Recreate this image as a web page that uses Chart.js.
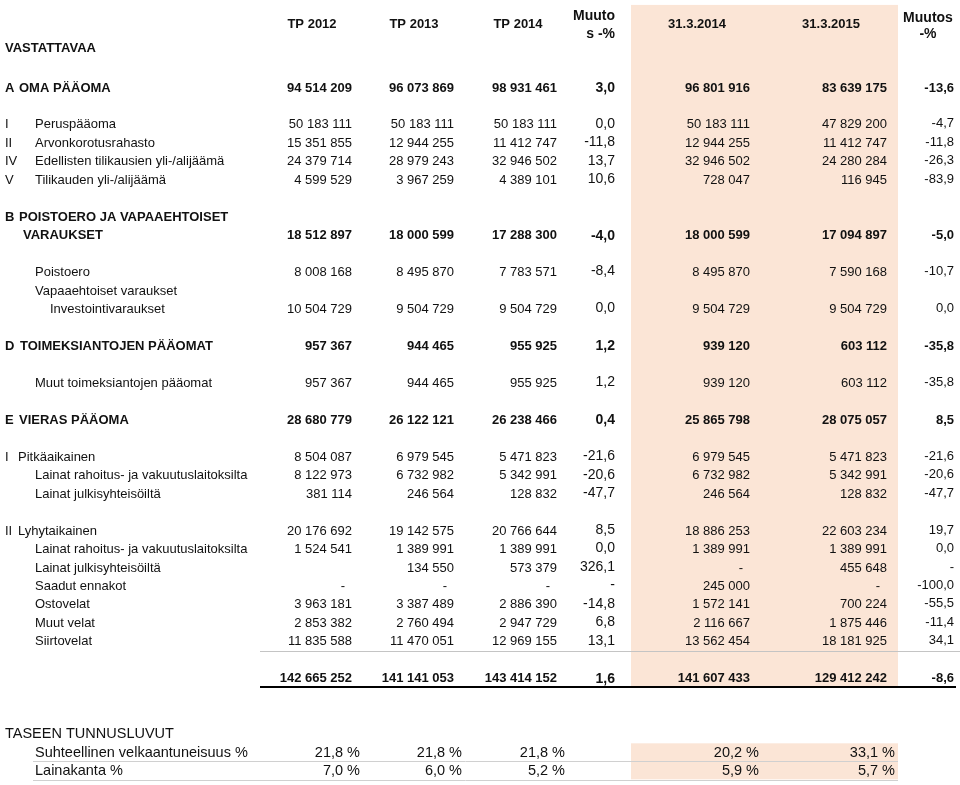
<!DOCTYPE html>
<html>
<head>
<meta charset="utf-8">
<script src="https://cdn.jsdelivr.net/npm/chart.js@4.4.1/dist/chart.umd.min.js"></script>
<style>
  body { margin: 0; background: #fff; }
  canvas { display: block; }
</style>
</head>
<body>
<canvas id="taulu" width="960" height="785"></canvas>
<script>
// column headings
var headings = ['TP 2012', 'TP 2013', 'TP 2014', ['Muuto', 's -%'], '31.3.2014', '31.3.2015', ['Muutos', '-%']];

// row texts
var rowCodes = ['A', 'I', 'II', 'IV', 'V', 'B', '', '', '', '', 'D', '', 'E', 'I', '', '', 'II', '', '', '', '', '', '', ''];
var rowNames = ['OMA PÄÄOMA', 'Peruspääoma', 'Arvonkorotusrahasto', 'Edellisten tilikausien yli-/alijäämä',
  'Tilikauden yli-/alijäämä', 'POISTOERO JA VAPAAEHTOISET', 'VARAUKSET', 'Poistoero', 'Vapaaehtoiset varaukset',
  'Investointivaraukset', 'TOIMEKSIANTOJEN PÄÄOMAT', 'Muut toimeksiantojen pääomat', 'VIERAS PÄÄOMA',
  'Pitkäaikainen', 'Lainat rahoitus- ja vakuutuslaitoksilta', 'Lainat julkisyhteisöiltä', 'Lyhytaikainen',
  'Lainat rahoitus- ja vakuutuslaitoksilta', 'Lainat julkisyhteisöiltä', 'Saadut ennakot', 'Ostovelat',
  'Muut velat', 'Siirtovelat', ''];

// values (null = empty cell, '-' = dash)
var tp2012 = [94514209, 50183111, 15351855, 24379714, 4599529, null, 18512897, 8008168, null, 10504729,
  957367, 957367, 28680779, 8504087, 8122973, 381114, 20176692, 1524541, null, '-', 3963181, 2853382, 11835588, 142665252];
var tp2013 = [96073869, 50183111, 12944255, 28979243, 3967259, null, 18000599, 8495870, null, 9504729,
  944465, 944465, 26122121, 6979545, 6732982, 246564, 19142575, 1389991, 134550, '-', 3387489, 2760494, 11470051, 141141053];
var tp2014 = [98931461, 50183111, 11412747, 32946502, 4389101, null, 17288300, 7783571, null, 9504729,
  955925, 955925, 26238466, 5471823, 5342991, 128832, 20766644, 1389991, 573379, '-', 2886390, 2947729, 12969155, 143414152];
var muutos1 = [3.0, 0.0, -11.8, 13.7, 10.6, null, -4.0, -8.4, null, 0.0,
  1.2, 1.2, 0.4, -21.6, -20.6, -47.7, 8.5, 0.0, 326.1, '-', -14.8, 6.8, 13.1, 1.6];
var q2014 = [96801916, 50183111, 12944255, 32946502, 728047, null, 18000599, 8495870, null, 9504729,
  939120, 939120, 25865798, 6979545, 6732982, 246564, 18886253, 1389991, '-', 245000, 1572141, 2116667, 13562454, 141607433];
var q2015 = [83639175, 47829200, 11412747, 24280284, 116945, null, 17094897, 7590168, null, 9504729,
  603112, 603112, 28075057, 5471823, 5342991, 128832, 22603234, 1389991, 455648, '-', 700224, 1875446, 18181925, 129412242];
var muutos2 = [-13.6, -4.7, -11.8, -26.3, -83.9, null, -5.0, -10.7, null, 0.0,
  -35.8, -35.8, 8.5, -21.6, -20.6, -47.7, 19.7, 0.0, '-', -100.0, -55.5, -11.4, 34.1, -8.6];

// key figures
var ratioTitle = 'TASEEN TUNNUSLUVUT';
var ratioNames = ['Suhteellinen velkaantuneisuus %', 'Lainakanta %'];
var ratio2012 = [21.8, 7.0];
var ratio2013 = [21.8, 6.0];
var ratio2014 = [21.8, 5.2];
var ratioQ2014 = [20.2, 5.9];
var ratioQ2015 = [33.1, 5.7];

// ---- layout (row slots in y units, x in px units) ----
var rowSlot = [0, 2, 3, 4, 5, 7, 8, 10, 11, 12, 14, 16, 18, 20, 21, 22, 24, 25, 26, 27, 28, 29, 30, 32];
var rowNameX = [19, 35, 35, 35, 35, 19, 23, 35, 35, 50, 20, 35, 19, 18, 35, 35, 18, 35, 35, 35, 35, 35, 35, 35];
var rowBold = [1, 0, 0, 0, 0, 1, 1, 0, 0, 0, 1, 0, 1, 0, 0, 0, 0, 0, 0, 0, 0, 0, 0, 1];
var colRight = [352, 454, 557, 615, 750, 887, 954];
var colPct = [0, 0, 0, 1, 0, 0, 1];
var colSize = [13, 13, 13, 14, 13, 13, 13];
var ratioSlot = [36, 37];
var ratioRight = [360, 462, 565, 759, 895];
var FONT = '"Liberation Sans", Arial, sans-serif';

function fmtNum(v) {
  if (v === null) return '';
  if (typeof v === 'string') return v;
  return String(v).replace(/\B(?=(\d{3})+(?!\d))/g, ' ');
}
function fmtPct(v) {
  if (v === null) return '';
  if (typeof v === 'string') return v;
  return v.toFixed(1).replace('.', ',');
}

var tablePlugin = {
  id: 'taulu',
  beforeDraw: function(chart) {
    var c = chart.ctx, x = chart.scales.x, y = chart.scales.y;
    c.save();
    c.fillStyle = '#fbe5d6';
    // shaded quarter columns
    c.fillRect(x.getPixelForValue(631), y.getPixelForValue(-4.5),
      x.getPixelForValue(898) - x.getPixelForValue(631), y.getPixelForValue(32.5) - y.getPixelForValue(-4.5));
    c.fillRect(x.getPixelForValue(631), y.getPixelForValue(35.5),
      x.getPixelForValue(898) - x.getPixelForValue(631), y.getPixelForValue(37.45) - y.getPixelForValue(35.5));
    c.restore();
  },
  afterDraw: function(chart) {
    var c = chart.ctx, x = chart.scales.x, y = chart.scales.y;
    var cols = [tp2012, tp2013, tp2014, muutos1, q2014, q2015, muutos2];
    c.save();
    c.fillStyle = '#111';
    c.textBaseline = 'middle';

    // headings
    c.font = 'bold 13px ' + FONT;
    c.textAlign = 'center';
    [312, 414, 518].forEach(function(cx, i) {
      c.fillText(headings[i], x.getPixelForValue(cx), y.getPixelForValue(-3.45));
    });
    [697, 831].forEach(function(cx, i) {
      c.fillText(headings[4 + i], x.getPixelForValue(cx), y.getPixelForValue(-3.45));
    });
    c.font = 'bold 14px ' + FONT;
    c.textAlign = 'right';
    c.fillText(headings[3][0], x.getPixelForValue(615), y.getPixelForValue(-3.9));
    c.fillText(headings[3][1], x.getPixelForValue(615), y.getPixelForValue(-2.93));
    c.textAlign = 'center';
    c.fillText(headings[6][0], x.getPixelForValue(928), y.getPixelForValue(-3.8));
    c.fillText(headings[6][1], x.getPixelForValue(928), y.getPixelForValue(-2.93));
    c.textAlign = 'left';
    c.font = 'bold 13px ' + FONT;
    c.fillText('VASTATTAVAA', x.getPixelForValue(5), y.getPixelForValue(-2.17));

    // body rows
    rowNames.forEach(function(name, r) {
      var py = y.getPixelForValue(rowSlot[r]);
      var w = rowBold[r] ? 'bold ' : '';
      c.textAlign = 'left';
      c.font = w + '13px ' + FONT;
      if (rowCodes[r]) c.fillText(rowCodes[r], x.getPixelForValue(5), py);
      c.fillText(name, x.getPixelForValue(rowNameX[r]), py);
      c.textAlign = 'right';
      cols.forEach(function(col, k) {
        var v = col[r];
        if (v === null) return;
        c.font = w + colSize[k] + 'px ' + FONT;
        var rx = colRight[k];
        if (v === '-' && !colPct[k]) rx -= 7;
        var txt = colPct[k] ? fmtPct(v) : fmtNum(v);
        c.fillText(txt, x.getPixelForValue(rx), py - (colPct[k] && !rowBold[r] ? 1 : 0));
      });
    });

    // rules under the last rows
    c.strokeStyle = '#c4c4c4';
    c.lineWidth = 1;
    c.beginPath();
    c.moveTo(x.getPixelForValue(260), Math.round(y.getPixelForValue(30.5)) + 0.5);
    c.lineTo(x.getPixelForValue(960), Math.round(y.getPixelForValue(30.5)) + 0.5);
    c.stroke();
    c.strokeStyle = '#000';
    c.lineWidth = 2;
    c.beginPath();
    c.moveTo(x.getPixelForValue(260), Math.round(y.getPixelForValue(32.47)));
    c.lineTo(x.getPixelForValue(956), Math.round(y.getPixelForValue(32.47)));
    c.stroke();

    // key figures
    c.textAlign = 'left';
    c.font = '14.5px ' + FONT;
    c.fillText(ratioTitle, x.getPixelForValue(5), y.getPixelForValue(35));
    var rcols = [ratio2012, ratio2013, ratio2014, ratioQ2014, ratioQ2015];
    ratioNames.forEach(function(name, r) {
      var py = y.getPixelForValue(ratioSlot[r]);
      c.textAlign = 'left';
      c.fillText(name, x.getPixelForValue(35), py);
      c.textAlign = 'right';
      rcols.forEach(function(col, k) {
        c.fillText(fmtPct(col[r]) + ' %', x.getPixelForValue(ratioRight[k]), py);
      });
      c.strokeStyle = '#d0d0d0';
      c.lineWidth = 1;
      var ly = Math.round(y.getPixelForValue(ratioSlot[r] + 0.47)) + 0.5;
      c.beginPath();
      c.moveTo(x.getPixelForValue(33), ly);
      c.lineTo(x.getPixelForValue(898), ly);
      c.stroke();
    });
    c.restore();
  }
};

var ctx = document.getElementById('taulu');
var taulu = new Chart(ctx, {
  type: 'scatter',
  data: { datasets: [] },
  options: {
    responsive: false,
    animation: false,
    layout: { padding: 0 },
    plugins: { legend: { display: false }, tooltip: { enabled: false } },
    scales: {
      x: { type: 'linear', min: 0, max: 960, display: false },
      y: { type: 'linear', min: -4.767, max: 37.757, reverse: true, display: false }
    }
  },
  plugins: [tablePlugin]
});
</script>
</body>
</html>
